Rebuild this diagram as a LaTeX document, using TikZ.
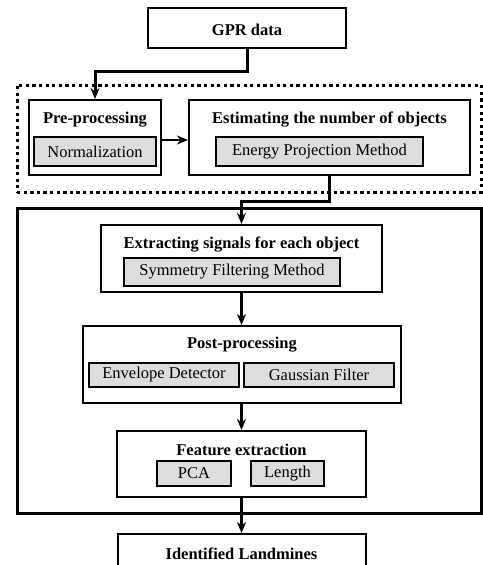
\documentclass[tikz,border=0pt]{standalone}
\usepackage{fontspec}
\setmainfont{Liberation Serif}
\usetikzlibrary{arrows.meta,calc}
\definecolor{boxgray}{RGB}{221,221,221}
\tikzset{
  box/.style={draw=black, line width=2pt, inner sep=0pt, fill=white},
  subbox/.style={draw=black, line width=1.2pt, fill=boxgray, inner sep=0pt, font=\fontsize{16.5}{18}\selectfont},
  ttl/.style={font=\fontsize{16.5}{18}\selectfont\bfseries, inner sep=0pt},
  arr/.style={line width=3pt, -{Stealth[length=11pt,width=9pt]}},
  group/.style={draw=black, line width=3pt, inner sep=0pt},
  dotgroup/.style={draw=black, line width=3pt, dash pattern=on 3.3pt off 3.3pt, inner sep=0pt}
}
\begin{document}
\begin{tikzpicture}[x=1pt,y=-1pt]
\useasboundingbox (0,0) rectangle (482,565);
% groups
\node[dotgroup, minimum width=464pt, minimum height=107pt] (dots) at (249,138.5) {};
\node[group, minimum width=464pt, minimum height=305pt] (big) at (249,360.5) {};
% top
\node[box, minimum width=198pt, minimum height=40pt] (gpr) at (247,28) {};
\node[ttl] (gprt) at (247,30) {GPR data};
% pre-processing
\node[box, minimum width=132pt, minimum height=75pt] (pre) at (95,137.5) {};
\node[ttl] (pret) at (95,119.5) {Pre-processing};
\node[subbox, minimum width=122pt, minimum height=29pt] (norm) at (95,151.5) {Normalization};
% estimating
\node[box, minimum width=281pt, minimum height=75pt] (est) at (329.5,137.5) {};
\node[ttl] (estt) at (329.5,119.5) {Estimating the number of objects};
\node[subbox, minimum width=207pt, minimum height=29pt] (epm) at (319.5,151.5) {Energy Projection Method};
% extracting
\node[box, minimum width=281pt, minimum height=67pt] (ext) at (241.5,258.5) {};
\node[ttl] (extt) at (241.5,244.5) {Extracting signals for each object};
\node[subbox, minimum width=216pt, minimum height=28pt] (sym) at (232,272) {Symmetry Filtering Method};
% post-processing
\node[box, minimum width=318pt, minimum height=77pt] (post) at (242,364.5) {};
\node[ttl] (postt) at (242,344.5) {Post-processing};
\node[subbox, minimum width=150pt, minimum height=24pt] (env) at (164,375) {Envelope Detector};
\node[subbox, minimum width=150pt, minimum height=24pt] (gau) at (319,375) {Gaussian Filter};
% feature extraction
\node[box, minimum width=249pt, minimum height=66pt] (feat) at (241.5,464) {};
\node[ttl] (featt) at (241.5,450) {Feature extraction};
\node[subbox, minimum width=74pt, minimum height=25pt] (pca) at (194,473.5) {PCA};
\node[subbox, minimum width=73pt, minimum height=25pt] (len) at (287.5,473.5) {Length};
% identified
\node[box, minimum width=248pt, minimum height=48pt] (ident) at (241.5,558) {};
\node[ttl] (identt) at (241.5,553.5) {Identified Landmines};
% connectors
\coordinate (j1) at (95,71);
\coordinate (j2) at (241.5,201);
\draw[arr] (gpr.south) |- (j1) -- (pre.north);
\draw[line width=2.5pt, -{Stealth[length=11pt,width=9pt]}] (pre.east |- 0,140) -- (est.west |- 0,140);
\draw[arr] (est.south) |- (j2) -- (ext.north);
\draw[arr] (ext.south) -- (post.north -| ext.south);
\draw[arr] (post.south -| ext.south) -- (feat.north);
\draw[arr] (feat.south) -- (ident.north);
\end{tikzpicture}
\end{document}
